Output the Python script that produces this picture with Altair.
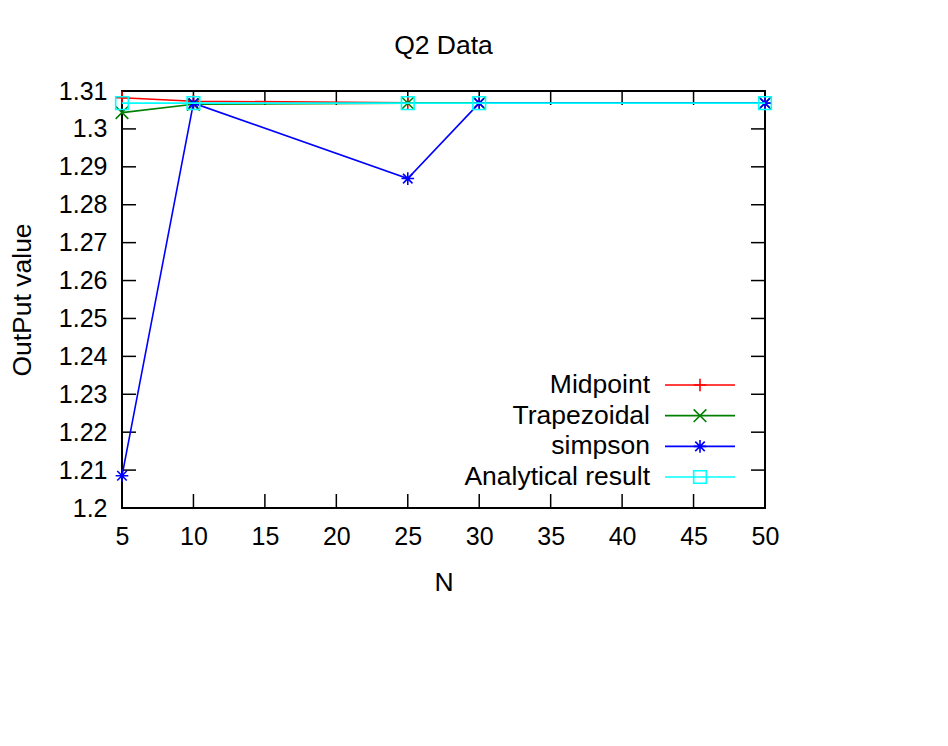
import altair as alt
import pandas as pd

# ---- data ----
n_values = [5, 10, 25, 30, 50]
midpoint = [1.3082, 1.3073, 1.3069, 1.3068, 1.3068]
trapezoidal = [1.3043, 1.3065, 1.3068, 1.3068, 1.3068]
simpson = [1.2085, 1.3068, 1.2869, 1.3068, 1.3068]
analytical = [1.3068, 1.3068, 1.3068, 1.3068, 1.3068]

series_names = ["Midpoint", "Trapezoidal", "simpson", "Analytical result"]
series_values = [midpoint, trapezoidal, simpson, analytical]
series_colors = ["#ff0000", "#008000", "#0000ff", "#00ffff"]

x_ticks = [5, 10, 15, 20, 25, 30, 35, 40, 45, 50]
y_ticks = [1.2, 1.21, 1.22, 1.23, 1.24, 1.25, 1.26, 1.27, 1.28, 1.29, 1.3, 1.31]

# ---- layout / style ----
W, H = 643, 417
FONT = "Liberation Sans"
FS_TICK = 25
FS_TEXT = 26.5
TICK = 14

PLUS = "M-1,0L1,0M0,-1L0,1"
CROSS = "M-1,-1L1,1M-1,1L1,-1"
STAR = "M-1,0L1,0M0,-1L0,1M-0.75,-0.75L0.75,0.75M-0.75,0.75L0.75,-0.75"
shape_range = [PLUS, CROSS, STAR, "square"]

rows = []
for name, vals in zip(series_names, series_values):
    for n, v in zip(n_values, vals):
        rows.append({"N": n, "value": v, "series": name})
df = pd.DataFrame(rows)

xscale = alt.Scale(domain=[5, 50], nice=False, zero=False)
yscale = alt.Scale(domain=[1.2, 1.31], nice=False, zero=False)
color = alt.Color("series:N", scale=alt.Scale(domain=series_names, range=series_colors), legend=None)
shape = alt.Shape("series:N", scale=alt.Scale(domain=series_names, range=shape_range), legend=None)
size_scale = alt.Scale(domain=series_names, range=[160, 160, 210, 240])
size = alt.Size("series:N", scale=size_scale, legend=None)

x_axis = alt.Axis(values=x_ticks, ticks=False, grid=False, domain=False, labelFlush=False,
                  labelFont=FONT, labelFontSize=FS_TICK, labelColor="black", labelPadding=16,
                  title="N", titleFont=FONT, titleFontSize=FS_TEXT, titleFontWeight="normal",
                  titleColor="black", titleY=74, titleBaseline="middle")
y_axis = alt.Axis(values=y_ticks, ticks=False, grid=False, domain=False, format="~g", labelFlush=False,
                  labelFont=FONT, labelFontSize=FS_TICK, labelColor="black", labelPadding=15,
                  title="OutPut value", titleFont=FONT, titleFontSize=FS_TEXT, titleFontWeight="normal",
                  titleColor="black", titleX=-100, titleY=H / 2, titleAngle=270,
                  titleAlign="center", titleBaseline="middle")

xt = pd.DataFrame({"t": x_ticks})
yt = pd.DataFrame({"t": y_ticks})
tick_style = dict(color="black", strokeWidth=1.5)
tick_layers = [
    alt.Chart(xt).mark_rule(**tick_style).encode(x=alt.X("t:Q", scale=xscale, axis=x_axis),
                                                 y=alt.value(H), y2=alt.value(H - TICK)),
    alt.Chart(xt).mark_rule(**tick_style).encode(x=alt.X("t:Q", scale=xscale, axis=x_axis),
                                                 y=alt.value(0), y2=alt.value(TICK)),
    alt.Chart(yt).mark_rule(**tick_style).encode(y=alt.Y("t:Q", scale=yscale, axis=y_axis),
                                                 x=alt.value(0), x2=alt.value(TICK)),
    alt.Chart(yt).mark_rule(**tick_style).encode(y=alt.Y("t:Q", scale=yscale, axis=y_axis),
                                                 x=alt.value(W), x2=alt.value(W - TICK)),
]

layers = []
for name in series_names:
    sub = alt.Chart(df).transform_filter(alt.datum.series == name)
    enc = dict(
        x=alt.X("N:Q", scale=xscale, axis=x_axis),
        y=alt.Y("value:Q", scale=yscale, axis=y_axis),
        color=color,
    )
    line = sub.mark_line(strokeWidth=1.6).encode(**enc)
    pts = sub.mark_point(filled=False, strokeWidth=1.6, opacity=1).encode(shape=shape, size=size, **enc)
    layers += [line, pts]

main = alt.layer(*(tick_layers + layers))

# ---- legend (gnuplot style: label, then line sample with marker) ----
leg_df = pd.DataFrame({"series": series_names})
leg_y = alt.Y("series:N", scale=alt.Scale(type="point", domain=series_names, range=[294, 386], padding=0), axis=None)
leg_base = alt.Chart(leg_df)
leg_text = leg_base.mark_text(align="right", baseline="middle", font=FONT, fontSize=FS_TEXT, color="black").encode(
    y=leg_y, x=alt.value(528), text="series:N")
leg_line = leg_base.mark_rule(strokeWidth=1.6).encode(y=leg_y, x=alt.value(543), x2=alt.value(613), color=color)
leg_pts = leg_base.mark_point(filled=False, strokeWidth=1.6, opacity=1).encode(
    y=leg_y, x=alt.value(578), color=color, shape=shape, size=size)
legend = alt.layer(leg_line, leg_pts, leg_text)

chart = alt.layer(main, legend).resolve_scale(y="independent").properties(
    width=W, height=H,
    background="white",
    title=alt.TitleParams("Q2 Data", font=FONT, fontSize=FS_TEXT, fontWeight="normal", color="black",
                          anchor="middle", offset=20),
    autosize=alt.AutoSizeParams(type="none"),
    padding={"left": 114, "top": 83, "right": 175, "bottom": 230},
).configure_view(stroke="black", strokeWidth=2)

chart.save("out.html", embed_options={"renderer": "svg", "actions": False})
